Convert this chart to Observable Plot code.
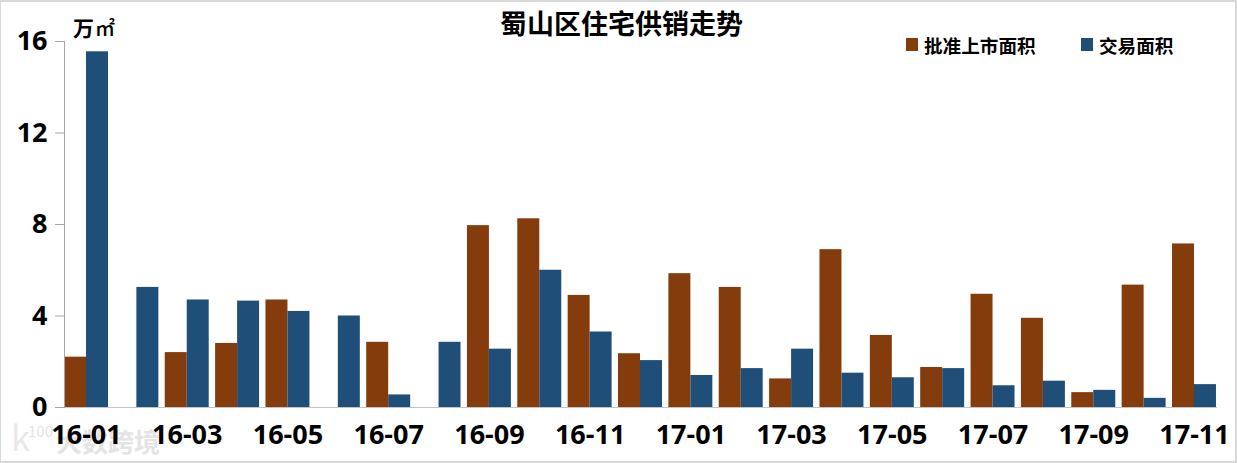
<!DOCTYPE html>
<html><head><meta charset="utf-8">
<script src="https://cdn.jsdelivr.net/npm/d3@7"></script>
<script src="https://cdn.jsdelivr.net/npm/@observablehq/plot@0.6"></script>
<style>
html,body{margin:0;padding:0;background:#fff;overflow:hidden}
#wrap{position:relative;width:1237px;height:463px;font-family:"Noto Sans CJK SC","Open Sans",sans-serif;color:#000}
#wrap svg{position:absolute;left:0;top:0;background:transparent}
.o{position:absolute;white-space:nowrap;font-weight:700;line-height:1}
#border{position:absolute;inset:0;border:1px solid #d9d9d9;border-width:2px 2px 2px 1px;box-sizing:border-box}
.sw{position:absolute;width:12px;height:13px}
</style></head><body>
<div id="wrap">
<div id="border"></div>
<div class="o" style="left:11px;top:420px;font-size:34px;color:#e8e8e8;font-weight:400">k</div>
<div class="o" style="left:28px;top:423px;font-size:15px;color:#e4e4e4;font-weight:400">100</div>
<div class="o" style="left:56px;top:428px;font-size:26px;color:#e4e4e4">大数跨境</div>
<div id="chart"></div>
<div class="o" style="left:500px;top:9px;font-size:27px">蜀山区住宅供销走势</div>
<div class="o" style="left:73px;top:17px;font-size:21px">万</div>
<div class="o" style="left:95px;top:18px;font-size:20px;font-weight:500">㎡</div>
<div class="sw" style="left:906px;top:38px;background:#843c0c"></div>
<div class="o" style="left:924px;top:36px;font-size:18.6px">批准上市面积</div>
<div class="sw" style="left:1081px;top:38px;background:#1f4e79"></div>
<div class="o" style="left:1099px;top:36px;font-size:18.6px">交易面积</div>
</div>
<script>
const months = ["16-01","16-02","16-03","16-04","16-05","16-06","16-07","16-08","16-09","16-10","16-11","16-12",
  "17-01","17-02","17-03","17-04","17-05","17-06","17-07","17-08","17-09","17-10","17-11"];
const approved = [2.2,0,2.4,2.8,4.7,0,2.85,0,7.95,8.25,4.9,2.35,5.85,5.25,1.25,6.9,3.15,1.75,4.95,3.9,0.65,5.35,7.15];
const traded = [15.55,5.25,4.7,4.65,4.2,4.0,0.55,2.85,2.55,6.0,3.3,2.05,1.4,1.7,2.55,1.5,1.3,1.7,0.95,1.15,0.75,0.4,1.0];
const seriesNames = ["批准上市面积","交易面积"];
const seriesColors = ["#843c0c","#1f4e79"];
const monthTicks = months.filter((m,i)=>i%2===0);
const yTicks = [0,4,8,12,16];
const rows = months.flatMap((m,i)=>[
  {month:m,series:seriesNames[0],value:approved[i]},
  {month:m,series:seriesNames[1],value:traded[i]}
]);
const font = '"Open Sans",sans-serif';
const chart = Plot.plot({
  width:1237,height:463,
  marginLeft:61,marginRight:18,marginTop:41,marginBottom:56,
  style:{background:"transparent",fontFamily:font},
  fx:{domain:months,paddingInner:0.127,paddingOuter:0.06,round:false,label:null},
  x:{domain:seriesNames,padding:0,round:false,axis:null},
  y:{domain:[0,16],axis:null},
  color:{domain:seriesNames,range:seriesColors},
  marks:[
    Plot.barY(rows.filter(d=>d.value>0),{fx:"month",x:"series",y:"value",fill:"series"}),
    Plot.frame({anchor:"bottom",stroke:"#c4c4c4",facet:"super"}),
    Plot.frame({anchor:"left",stroke:"#a6a6a6",facet:"super"}),
    Plot.axisY({ticks:yTicks,tickSize:9,tickPadding:8,label:null,stroke:"#a6a6a6",fill:"#000",fontSize:27,fontWeight:700,fontFamily:font,textStroke:"none"}),
    Plot.axisFx({anchor:"bottom",ticks:monthTicks,tickSize:0,tickPadding:17,label:null,fill:"#000",fontSize:27,fontWeight:700,fontFamily:font})
  ]
});
document.getElementById("chart").appendChild(chart);
</script>
</body></html>
